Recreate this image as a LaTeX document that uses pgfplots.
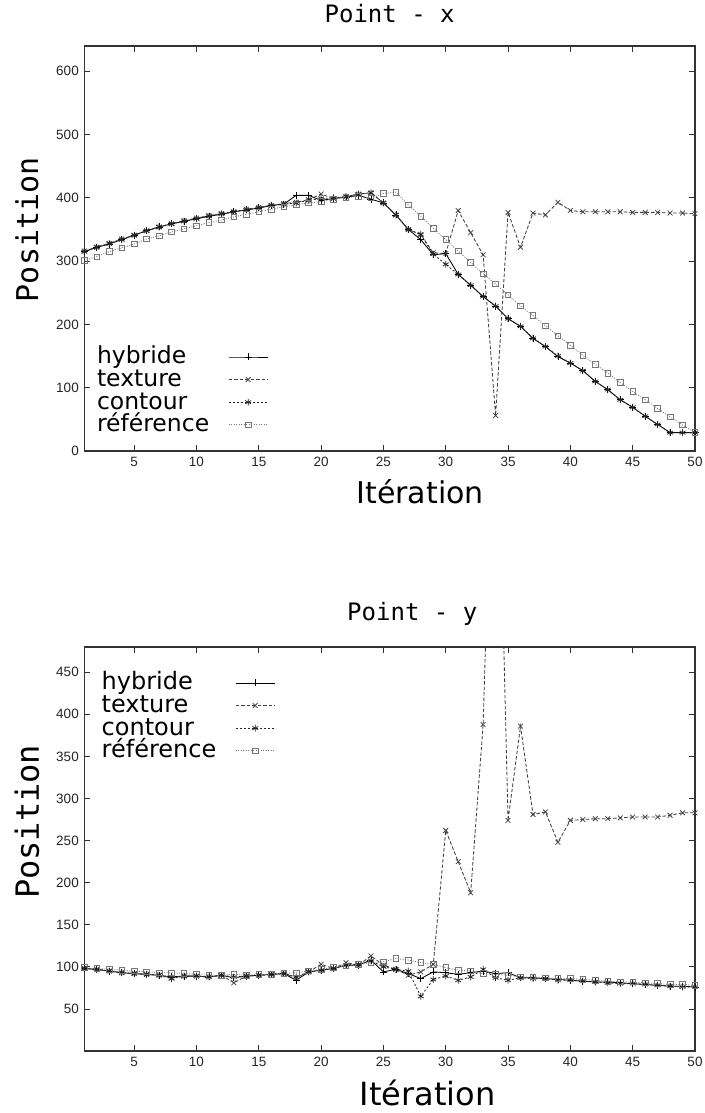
\documentclass[border=0pt]{standalone}
\usepackage{pgfplots}
\pgfplotsset{compat=1.18}
\usepackage{fontspec}
\newfontfamily\tickfont{Liberation Sans}
\newfontfamily\monofont{DejaVu Sans Mono}
\newfontfamily\legfont{DejaVu Sans}
\definecolor{axisgray}{HTML}{333333}
\definecolor{refgray}{HTML}{777777}
\definecolor{texgray}{HTML}{404040}

% ---------- data: Point - x ----------
\pgfplotstableread{
x hyb tex con ref
1 315 316 315 301
2 322 322 322 307
3 327 328 328 315
4 334 335 334 321
5 341 341 341 327
6 348 348 348 335
7 354 354 354 340
8 359 359 359 346
9 363 364 363 351
10 367 368 367 356
11 371 372 371 361
12 374 375 375 365
13 378 378 378 370
14 381 382 381 374
15 384 385 384 378
16 388 388 388 382
17 390 391 390 386
18 404 393 392 389
19 404 397 396 392
20 396 406 399 394
21 399 399 400 398
22 401 402 402 401
23 404 406 406 402
24 398 408 408 400
25 392 392 392 407
26 373 373 373 409
27 350 350 350 389
28 334 342 342 371
29 310 313 311 352
30 312 312 295 334
31 279 380 279 316
32 262 345 262 298
33 244 310 244 280
34 229 56 229 264
35 209 377 209 247
36 197 322 197 229
37 178 376 178 214
38 165 373 165 198
39 149 393 150 182
40 139 380 139 167
41 127 378 127 151
42 110 378 110 137
43 97 378 97 123
44 81 378 81 108
45 69 377 69 94
46 55 377 55 81
47 42 377 42 67
48 29 376 29 54
49 29 376 29 41
50 29 375 29 29
}\tabx

% ---------- data: Point - y ----------
\pgfplotstableread{
x hyb tex con ref
1 98 98 98 99
2 97 97 97 98
3 95 95 95 97
4 93 93 93 96
5 92 92 92 95
6 91 91 91 94
7 90 90 90 93
8 88 87 86 93
9 89 89 89 92
10 89 89 89 91
11 88 88 88 90
12 90 90 90 90
13 87 81 88 91
14 89 89 89 90
15 90 90 90 91
16 91 91 91 91
17 92 92 92 92
18 84 87 88 93
19 94 94 94 95
20 96 103 96 97
21 98 98 98 99
22 102 105 102 101
23 102 102 103 103
24 108 113 107 105
25 94 102 100 106
26 97 97 97 110
27 92 90 95 108
28 86 94 65 105
29 94 103 85 103
30 93 262 89 99
31 91 225 84 96
32 93 188 88 95
33 95 388 97 92
34 92 880 87 91
35 93 274 84 90
36 87 386 87 88
37 87 281 86 88
38 86 284 86 87
39 85 248 84 86
40 84 274 84 86
41 83 275 83 85
42 82 276 82 84
43 82 276 81 83
44 81 277 80 82
45 80 278 80 82
46 79 278 79 81
47 78 278 78 80
48 77 280 77 79
49 77 283 76 79
50 76 283 76 78
}\taby

\pgfplotsset{
  gpstyle/.style={
    scale only axis,
    width=610.7pt,
    xmin=1, xmax=50,
    xtick={5,10,...,50},
    tick align=inside,
    major tick length=6pt,
    axis line style={line width=1.3pt, color=axisgray},
    tick style={line width=0.8pt, color=axisgray},
    ticklabel style={font=\tickfont\fontsize{13.5}{15}\selectfont, color=black!85},
    /pgf/number format/assume math mode=true,
    xticklabel style={yshift=-2.5pt},
    yticklabel style={xshift=-2pt},
    legend cell align=left,
    legend plot pos=right,
    legend image code/.code={%
      \draw[mark repeat=2,mark phase=2,##1] plot coordinates {(0pt,0pt) (19.5pt,0pt) (39pt,0pt)};},
    every axis plot/.append style={line width=0.85pt},
  },
  hybstyle/.style={black, solid, mark=+, mark size=3.5pt, mark options={solid, line width=0.75pt}},
  texstyle/.style={texgray, dash pattern=on 3.5pt off 2pt, mark=x, mark size=3.4pt, mark options={solid, line width=0.75pt}},
  constyle/.style={black!85, dash pattern=on 2pt off 2pt, mark=asterisk, mark size=3.4pt, mark options={solid, line width=0.75pt}},
  refstyle/.style={refgray, dash pattern=on 1pt off 1.5pt, mark=square, mark size=2.8pt, mark options={solid, line width=0.75pt}},
}

\begin{document}
\begin{tikzpicture}
\useasboundingbox (0pt,0pt) rectangle (704pt,1113pt);

% ---------------- Point - x ----------------
\begin{axis}[
  gpstyle,
  at={(84.3pt,662pt)}, anchor=south west,
  height=405pt,
  ymin=0, ymax=640,
  ytick={0,100,...,600},
  title={Point - x},
  title style={at={(axis description cs:0.5,1.066)}, anchor=center, font=\monofont\fontsize{24}{24}\selectfont},
  xlabel={Itération},
  xlabel style={at={(axis description cs:0.55,-0.101)}, anchor=center, font=\legfont\fontsize{30}{30}\selectfont},
  ylabel={Position},
  ylabel style={at={(axis description cs:-0.094,0.546)}, anchor=center, font=\monofont\fontsize{30}{30}\selectfont},
  legend style={draw=none, fill=none, at={(axis description cs:0.0208,0.26)}, anchor=north west,
    inner sep=0pt, outer sep=0pt, row sep=0pt, column sep=19pt,
    font=\legfont\fontsize{23.5}{23.5}\selectfont,
    nodes={inner sep=0pt, text height=18.3pt, text depth=4.3pt}},
]
\addplot[hybstyle] table[x=x, y=hyb] {\tabx};
\addplot[texstyle] table[x=x, y=tex] {\tabx};
\addplot[constyle] table[x=x, y=con] {\tabx};
\addplot[refstyle] table[x=x, y=ref] {\tabx};
\legend{hybride, texture, contour, référence}
\end{axis}

% ---------------- Point - y ----------------
\begin{axis}[
  gpstyle,
  at={(84.3pt,62pt)}, anchor=south west,
  height=404pt,
  ymin=0, ymax=480,
  ytick={50,100,...,450},
  title={Point - y},
  title style={at={(axis description cs:0.537,1.067)}, anchor=center, font=\monofont\fontsize{24}{24}\selectfont},
  xlabel={Itération},
  xlabel style={at={(axis description cs:0.562,-0.104)}, anchor=center, font=\legfont\fontsize{32}{32}\selectfont},
  ylabel={Position},
  ylabel style={at={(axis description cs:-0.094,0.567)}, anchor=center, font=\monofont\fontsize{32}{32}\selectfont},
  legend style={draw=none, fill=none, at={(axis description cs:0.0285,0.939)}, anchor=north west,
    inner sep=0pt, outer sep=0pt, row sep=0pt, column sep=19pt,
    font=\legfont\fontsize{24}{24}\selectfont,
    nodes={inner sep=0pt, text height=18.3pt, text depth=4.3pt}},
]
\addplot[hybstyle] table[x=x, y=hyb] {\taby};
\addplot[texstyle] table[x=x, y=tex] {\taby};
\addplot[constyle] table[x=x, y=con] {\taby};
\addplot[refstyle] table[x=x, y=ref] {\taby};
\legend{hybride, texture, contour, référence}
\end{axis}
\end{tikzpicture}
\end{document}
